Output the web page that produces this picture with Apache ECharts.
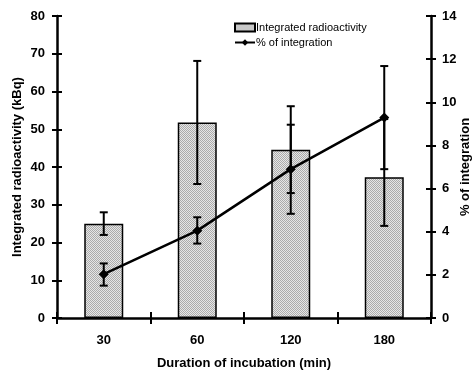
<!DOCTYPE html>
<html>
<head>
  <meta charset="UTF-8">
  <title>Integrated radioactivity</title>
  <script src="https://cdn.jsdelivr.net/npm/echarts@6/dist/echarts.min.js"></script>
  <style>
    html, body { margin: 0; padding: 0; background: #fff; }
    #chart { width: 474px; height: 371px; }
  </style>
</head>
<body>
<div id="chart"></div>
<script>
  // data
  var categories = ['30', '60', '120', '180'];
  var radioactivity = [25, 51.8, 44.6, 37.3];      // kBq
  var radioLow = [22, 35.5, 33.1, 24.4];
  var radioHigh = [28, 68.1, 56.1, 52.7];
  var integration = [2.03, 4.05, 6.9, 9.29];        // %
  var integLow = [1.5, 3.45, 4.83, 6.9];
  var integHigh = [2.53, 4.67, 8.96, 11.68];
  var leftTicks = [0, 80, 10];
  var rightTicks = [0, 14, 2];

  var FONT = 'Liberation Sans';

  // dotted grey fill like the scanned bars
  var pat = document.createElement('canvas');
  pat.width = 2; pat.height = 2;
  var pc = pat.getContext('2d');
  pc.fillStyle = '#e6e6e6'; pc.fillRect(0, 0, 2, 2);
  pc.fillStyle = '#ababab'; pc.fillRect(0, 0, 1, 1); pc.fillRect(1, 1, 1, 1);

  function errorBar() {
    return function (params, api) {
      var i = api.value(0);
      var a = api.coord([i, api.value(1)]);
      var b = api.coord([i, api.value(2)]);
      var w = 4;
      var st = { stroke: '#000', lineWidth: 2 };
      return {
        type: 'group',
        children: [
          { type: 'line', shape: { x1: a[0], y1: a[1], x2: b[0], y2: b[1] }, style: st },
          { type: 'line', shape: { x1: a[0] - w, y1: a[1], x2: a[0] + w, y2: a[1] }, style: st },
          { type: 'line', shape: { x1: b[0] - w, y1: b[1], x2: b[0] + w, y2: b[1] }, style: st }
        ]
      };
    };
  }

  var radioErr = categories.map(function (c, i) { return [i, radioLow[i], radioHigh[i]]; });
  var integErr = categories.map(function (c, i) { return [i, integLow[i], integHigh[i]]; });

  var axisLine = { show: true, lineStyle: { color: '#000', width: 2.5 } };
  var label = { color: '#000', fontFamily: FONT, fontWeight: 'bold', fontSize: 13 };
  var nameStyle = { color: '#000', fontFamily: FONT, fontWeight: 'bold', fontSize: 13 };

  var chart = echarts.init(document.getElementById('chart'), null, { renderer: 'canvas' });
  var option = {
    animation: false,
    backgroundColor: '#fff',
    grid: { left: 57, right: 43, top: 16, bottom: 53, containLabel: false, outerBoundsMode: 'none' },
    legend: {
      left: 229, top: 17, orient: 'vertical', itemGap: 4,
      itemWidth: 20, itemHeight: 8,
      textStyle: { color: '#000', fontFamily: FONT, fontSize: 11, padding: [0, 0, 0, -4] },
      data: [
        { name: 'Integrated radioactivity', icon: 'rect' },
        { name: '% of integration' }
      ]
    },
    xAxis: [{
      type: 'category', data: categories,
      axisLine: axisLine,
      axisTick: { show: true, length: 6, lineStyle: { color: '#000', width: 2 } },
      axisLabel: Object.assign({ margin: 16 }, label),
      name: 'Duration of incubation (min)', nameLocation: 'middle', nameGap: 39,
      nameMoveOverlap: false,
      nameTextStyle: nameStyle
    }, {
      type: 'category', data: categories, position: 'bottom',
      axisLine: { show: false },
      axisTick: { show: true, inside: true, length: 6, lineStyle: { color: '#000', width: 2 } },
      axisLabel: { show: false }
    }],
    yAxis: [{
      type: 'value', min: leftTicks[0], max: leftTicks[1], interval: leftTicks[2],
      axisLine: axisLine,
      axisTick: { show: true, length: 5, lineStyle: { color: '#000', width: 2 } },
      axisLabel: Object.assign({ margin: 12 }, label),
      splitLine: { show: false },
      name: 'Integrated radioactivity (kBq)', nameLocation: 'middle', nameGap: 33, nameRotate: 90,
      nameMoveOverlap: false,
      nameTextStyle: nameStyle
    }, {
      type: 'value', min: rightTicks[0], max: rightTicks[1], interval: rightTicks[2],
      position: 'right',
      axisLine: axisLine,
      axisTick: { show: true, length: 5, lineStyle: { color: '#000', width: 2 } },
      axisLabel: Object.assign({ margin: 11 }, label),
      splitLine: { show: false },
      name: '% of integration', nameLocation: 'middle', nameGap: 28, nameRotate: 90,
      nameMoveOverlap: false,
      nameTextStyle: nameStyle
    }, {
      type: 'value', min: leftTicks[0], max: leftTicks[1], interval: leftTicks[2],
      position: 'left',
      axisLine: { show: false },
      axisTick: { show: true, inside: true, length: 5, lineStyle: { color: '#000', width: 2 } },
      axisLabel: { show: false }, splitLine: { show: false }
    }, {
      type: 'value', min: rightTicks[0], max: rightTicks[1], interval: rightTicks[2],
      position: 'right',
      axisLine: { show: false },
      axisTick: { show: true, inside: true, length: 5, lineStyle: { color: '#000', width: 2 } },
      axisLabel: { show: false }, splitLine: { show: false }
    }],
    series: [{
      name: 'Integrated radioactivity', type: 'bar', data: radioactivity,
      barWidth: 39,
      itemStyle: { color: { image: pat, repeat: 'repeat' }, borderColor: '#000', borderWidth: 1.5 }
    }, {
      name: 'radioErr', type: 'custom', data: radioErr, z: 3,
      renderItem: errorBar(), encode: { x: 0, y: [1, 2] }
    }, {
      name: 'integErr', type: 'custom', data: integErr, yAxisIndex: 1, z: 3,
      renderItem: errorBar(), encode: { x: 0, y: [1, 2] }
    }, {
      name: '% of integration', type: 'line', data: integration, yAxisIndex: 1, z: 4,
      symbol: 'diamond', symbolSize: 10,
      lineStyle: { color: '#000', width: 2.5 },
      itemStyle: { color: '#000' }
    }]
  };
  chart.setOption(option);
</script>
</body>
</html>
